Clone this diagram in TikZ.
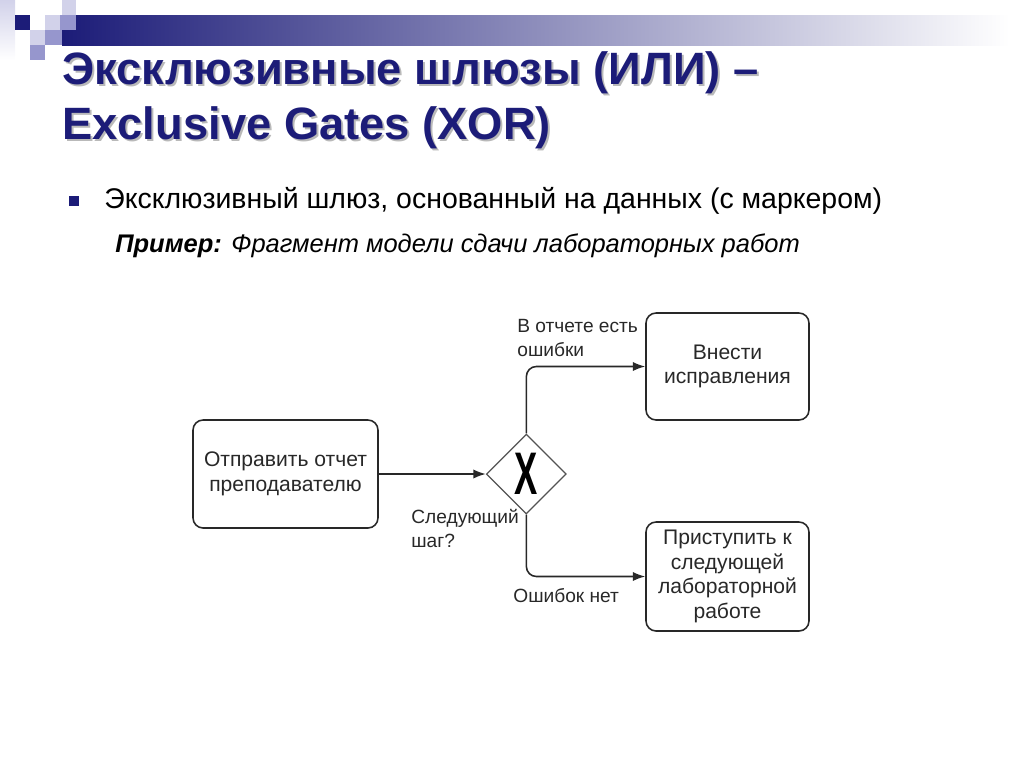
\documentclass[tikz,border=0pt]{standalone}
\usepackage{fontspec}
\setmainfont{Liberation Sans}
\usetikzlibrary{arrows.meta,positioning,shapes.geometric}
\definecolor{navy}{RGB}{28,28,120}
\definecolor{lilac}{RGB}{210,210,234}
\definecolor{lilacmid}{RGB}{150,150,205}
\definecolor{ink}{RGB}{40,40,40}

\begin{document}
\begin{tikzpicture}[x=0.02cm,y=-0.02cm,>=Latex,
  task/.style={draw=ink,line width=0.9pt,rounded corners=0.2cm,align=center,text=ink,
    font=\fontsize{12}{14}\selectfont,minimum width=3.26cm,minimum height=2.14cm},
  gate/.style={diamond,draw=ink!80,line width=0.7pt,minimum width=1.6cm,minimum height=1.6cm,inner sep=0pt},
  flow/.style={->,draw=ink,line width=0.9pt,rounded corners=0.2cm},
  cond/.style={align=left,text=ink,inner sep=0pt,font=\fontsize{10.9}{13.6}\selectfont}]
\useasboundingbox (0,0) rectangle (1024,768);
% slide header
\shade[left color=navy,middle color=navy!22,right color=white] (62,15) rectangle (1010,45);
\shade[top color=lilac,bottom color=white] (0,0) rectangle (15,60);
\fill[navy] (15,15) rectangle (30,30);
\fill[lilac] (45,15) rectangle (60,30);
\fill[lilacmid] (60,15) rectangle (76,30);
\fill[lilac] (62,0) rectangle (76,15);
\fill[lilac] (30,30) rectangle (45,45);
\fill[lilacmid] (45,30) rectangle (62,45);
\fill[lilacmid] (30,45) rectangle (45,60);
\node[anchor=north west,align=left,inner sep=0pt,text=gray!55,font=\bfseries\fontsize{25.8}{31.2}\selectfont]
  at (64,53) {Эксклюзивные шлюзы (ИЛИ) –\\Exclusive Gates (XOR)};
\node[anchor=north west,align=left,inner sep=0pt,text=navy,font=\bfseries\fontsize{25.8}{31.2}\selectfont]
  (title) at (62,51) {Эксклюзивные шлюзы (ИЛИ) –\\Exclusive Gates (XOR)};
\fill[navy] (69,196) rectangle (79,206);
\node[anchor=west,inner sep=0pt,font=\fontsize{16.2}{19}\selectfont] (point) at (104,201)
  {Эксклюзивный шлюз, основанный на данных (с маркером)};
\node[anchor=west,inner sep=0pt,font=\itshape\fontsize{14.5}{17}\selectfont] (sample) at (115,246)
  {\textbf{Пример:} Фрагмент модели сдачи лабораторных работ};
% process fragment
\node[task,minimum width=3.7cm,minimum height=2.16cm] (send) at (285.5,474) {Отправить отчет\\преподавателю};
\node[gate,right=2.14cm of send] (xor) {\scalebox{0.55}[0.95]{\bfseries\fontsize{36}{36}\selectfont X}};
\node[task] (fix) at (727.5,366.5) {Внести\\исправления};
\node[task,minimum height=2.18cm] (next) at (727.5,576.5) {Приступить к\\следующей\\лабораторной\\работе};
\draw[flow] (send) -- (xor);
\draw[flow] (xor.north) |- (fix);
\draw[flow] (xor.south) |- (next);
\node[cond,anchor=north west] at (517,319) {В отчете есть\\ошибки};
\node[cond,anchor=north west] at (411,509) {Следующий\\шаг?};
\node[cond,anchor=north west] at (513,588) {Ошибок нет};
\end{tikzpicture}
\end{document}
